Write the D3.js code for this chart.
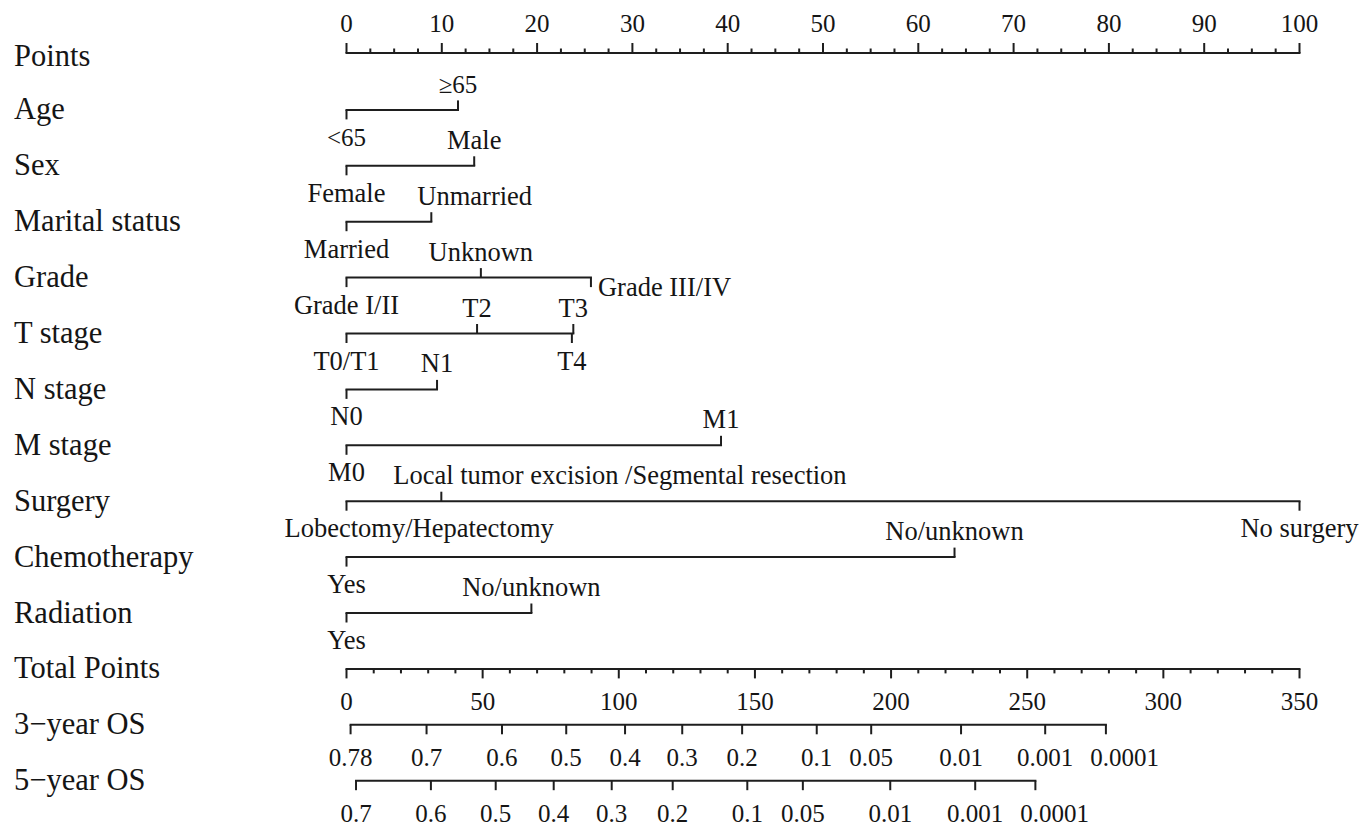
<!DOCTYPE html>
<html>
<head>
<meta charset="utf-8">
<script src="https://cdn.jsdelivr.net/npm/d3@7"></script>
<style>
  html, body { margin: 0; padding: 0; background: #fff; }
  svg { display: block; }
  text { font-family: "Liberation Serif", "Times New Roman", serif; fill: #151515; }
</style>
</head>
<body>
<svg id="chart" width="1371" height="829"></svg>
<script>
// ---------------- DATA ----------------
const rowLabels = ["Points", "Age", "Sex", "Marital status", "Grade", "T stage", "N stage",
  "M stage", "Surgery", "Chemotherapy", "Radiation", "Total Points", "3\u2212year OS", "5\u2212year OS"];

const pointsTickLabels = [0, 10, 20, 30, 40, 50, 60, 70, 80, 90, 100];
const totalTickLabels = [0, 50, 100, 150, 200, 250, 300, 350];

const varNames = ["Age", "Sex", "Marital status", "Grade", "T stage", "N stage",
  "M stage", "Surgery", "Chemotherapy", "Radiation"];
const levelLabels = [
  ["<65", "\u226565"],
  ["Female", "Male"],
  ["Married", "Unmarried"],
  ["Grade I/II", "Unknown", "Grade III/IV"],
  ["T0/T1", "T2", "T3", "T4"],
  ["N0", "N1"],
  ["M0", "M1"],
  ["Lobectomy/Hepatectomy", "Local tumor excision /Segmental resection", "No surgery"],
  ["Yes", "No/unknown"],
  ["Yes", "No/unknown"]
];
const levelPoints = [
  [0, 11.7],
  [0, 13.4],
  [0, 8.9],
  [0, 14.1, 25.65],
  [0, 13.7, 23.8, 23.65],
  [0, 9.5],
  [0, 39.3],
  [0, 9.95, 100],
  [0, 63.8],
  [0, 19.4]
];

const os3Labels = ["0.78", "0.7", "0.6", "0.5", "0.4", "0.3", "0.2", "0.1", "0.05", "0.01", "0.001", "0.0001"];
const os3Points = [1.5, 29.4, 57.1, 80.7, 102.3, 123.3, 145.3, 172.7, 192.7, 225.7, 256.6, 278.9];
const os5Labels = ["0.7", "0.6", "0.5", "0.4", "0.3", "0.2", "0.1", "0.05", "0.01", "0.001", "0.0001"];
const os5Points = [3.5, 31.0, 54.8, 76.1, 97.4, 119.8, 147.2, 167.6, 199.7, 230.9, 253.0];

// ---------------- LAYOUT (style, not data) ----------------
const labelSide = [
  ["below", "above"], ["below", "above"], ["below", "above"],
  ["below", "above", "right"], ["below", "above", "above", "below"],
  ["below", "above"], ["below", "above"], ["below", "above", "below"],
  ["below", "above"], ["below", "above"]
];
// labels nudged to avoid overlaps (anchor start with pixel offset from tick)
const labelNudge = {
  "Unmarried": -14,
  "Local tumor excision /Segmental resection": -48,
  "Lobectomy/Hepatectomy": -62
};

const W = 1371, H = 829;
const x0 = 346.5, x1 = 1299.5;
const rowY = i => 54 + 55.9 * i;
const lineColor = "#1e1e1e";
const sw = 2;
const rowFont = 30.5, wordFont = 26.5, numFont = 25;

const svg = d3.select("#chart");
svg.append("rect").attr("width", W).attr("height", H).attr("fill", "#fff");

const xPts = d3.scaleLinear().domain([0, 100]).range([x0, x1]);
const xTot = d3.scaleLinear().domain([0, 350]).range([x0, x1]);

// row labels
svg.append("g").selectAll("text").data(rowLabels).join("text")
  .attr("x", 14).attr("y", (d, i) => rowY(i) + (i === 0 ? 11.5 : 9.5))
  .attr("font-size", rowFont).text(d => d);

function hline(g, xa, xb, y) {
  g.append("line").attr("x1", xa).attr("x2", xb).attr("y1", y).attr("y2", y)
    .attr("stroke", lineColor).attr("stroke-width", sw).attr("stroke-linecap", "square");
}
function vtick(g, x, y, len) {
  g.append("line").attr("x1", x).attr("x2", x).attr("y1", y).attr("y2", y + len)
    .attr("stroke", lineColor).attr("stroke-width", sw).attr("stroke-linecap", "butt");
}

// ---- Points axis (top) ----
{
  const g = svg.append("g");
  const y = rowY(0) - 1;
  hline(g, xPts(0), xPts(100), y);
  d3.range(0, 100.001, 2.5).forEach(v => {
    const major = Math.abs(v % 10) < 1e-6;
    vtick(g, xPts(v), y, major ? -10 : -4.5);
  });
  g.selectAll("text").data(pointsTickLabels).join("text")
    .attr("x", d => xPts(d)).attr("y", y - 21)
    .attr("text-anchor", "middle").attr("font-size", numFont).text(d => d);
}

// ---- Variable rows ----
varNames.forEach((name, vi) => {
  const g = svg.append("g");
  const y = rowY(vi + 1);
  const pts = levelPoints[vi];
  const labs = levelLabels[vi];
  const sides = labelSide[vi];
  hline(g, xPts(d3.min(pts)), xPts(d3.max(pts)), y);
  pts.forEach((p, li) => {
    const side = sides[li];
    const x = xPts(p);
    vtick(g, x, y, side === "above" ? -9.5 : 9.5);
    const isNum = /^[<\u2265]?\d+$/.test(labs[li]);
    const t = g.append("text").attr("font-size", isNum ? numFont : wordFont).text(labs[li]);
    if (side === "right") {
      t.attr("x", x + 7).attr("y", y + 18).attr("text-anchor", "start");
    } else {
      const ty = side === "above" ? y - 17 : y + 36;
      if (labs[li] in labelNudge) {
        t.attr("x", x + labelNudge[labs[li]]).attr("y", ty).attr("text-anchor", "start");
      } else {
        t.attr("x", x).attr("y", ty).attr("text-anchor", "middle");
      }
    }
  });
});

// ---- Total Points axis ----
{
  const g = svg.append("g");
  const y = rowY(11);
  hline(g, xTot(0), xTot(350), y);
  d3.range(0, 350.001, 10).forEach(v => {
    const major = Math.abs(v % 50) < 1e-6;
    vtick(g, xTot(v), y, major ? 9.5 : 4.5);
  });
  g.selectAll("text").data(totalTickLabels).join("text")
    .attr("x", d => xTot(d)).attr("y", y + 41)
    .attr("text-anchor", "middle").attr("font-size", numFont).text(d => d);
}

// ---- Survival axes ----
function osAxis(rowIdx, pts, labs) {
  const g = svg.append("g");
  const y = rowY(rowIdx);
  hline(g, xTot(d3.min(pts)), xTot(d3.max(pts)), y);
  pts.forEach(p => vtick(g, xTot(p), y, 9.5));
  const texts = g.selectAll("text").data(pts).join("text")
    .attr("x", d => xTot(d)).attr("y", y + 41)
    .attr("text-anchor", "middle").attr("font-size", numFont)
    .text((d, i) => labs[i]);
  // push labels right when they would collide with the previous one
  let prevRight = -Infinity;
  texts.each(function () {
    const bb = this.getBBox();
    const minGap = 17;
    if (bb.x < prevRight + 8) {
      const shift = prevRight + minGap - bb.x;
      d3.select(this).attr("x", +d3.select(this).attr("x") + shift);
      prevRight = bb.x + shift + bb.width;
    } else {
      prevRight = bb.x + bb.width;
    }
  });
}
osAxis(12, os3Points, os3Labels);
osAxis(13, os5Points, os5Labels);
</script>
</body>
</html>
